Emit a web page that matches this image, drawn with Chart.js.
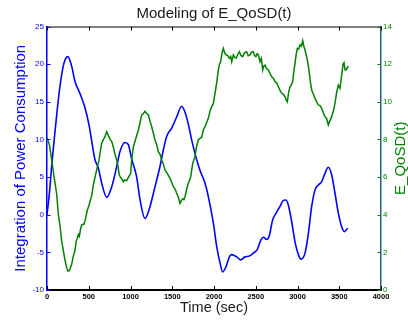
<!DOCTYPE html>
<html>
<head>
<meta charset="utf-8">
<script src="https://cdn.jsdelivr.net/npm/chart.js"></script>
<style>
  html, body { margin: 0; padding: 0; background: #fff; }
  #wrap { width: 408px; height: 320px; }
</style>
</head>
<body>
<div id="wrap"><canvas id="chart" width="408" height="320"></canvas></div>
<script>
// Blue curve, left axis: integration of power consumption
var powerTime = [0, 30, 60, 100, 150, 200, 250, 296, 335, 395, 455, 507, 547, 575, 615, 655, 715, 775, 835, 874, 934,
  974, 1014, 1074, 1114, 1174, 1234, 1293, 1353, 1393, 1433, 1493, 1553, 1613, 1653, 1693, 1733, 1790, 1832, 1892,
  1932, 1992, 2032, 2072, 2104, 2144, 2184, 2212, 2272, 2320, 2371, 2423, 2471, 2519, 2559, 2591, 2631, 2662, 2702,
  2743, 2790, 2830, 2862, 2890, 2930, 2970, 3010, 3042, 3090, 3130, 3170, 3210, 3250, 3290, 3329, 3369, 3409, 3449,
  3489, 3529, 3561, 3601];
var powerValue = [0, 3, 7, 11.5, 16.6, 20, 21, 19.7, 17.7, 16.1, 14.2, 11.7, 9.0, 7.3, 6.2, 4.2, 2.3, 3.7, 6.4, 8.4, 9.6,
  9.3, 7.4, 5.0, 2.0, -0.5, 1.1, 3.7, 6.4, 8.6, 10.4, 11.5, 13.0, 14.4, 13.6, 12.0, 9.9, 7.4, 5.9, 4.2,
  2.4, -1.1, -4.2, -6.4, -7.6, -6.9, -5.6, -5.3, -5.6, -6.0, -5.6, -5.5, -5.1, -4.6, -3.4, -3.0, -3.3, -2.8, -0.7,
  0.2, 1.1, 1.9, 1.96, 1.3, -0.9, -3.6, -5.3, -5.9, -5.1, -2.5, 1.1, 3.3, 3.95, 4.4, 5.5, 6.3, 5.3, 2.85,
  0.2, -1.6, -2.25, -1.8];

// Green curve, right axis: E_QoSD(t)
var qosdTime = [0, 30, 56, 85, 116, 136, 156, 176, 195, 215, 235, 250, 270, 295, 315, 335, 350, 363, 375, 387, 400,
  415, 430, 443, 460, 483, 500, 515, 535, 555, 575, 595, 623, 640, 655, 675, 690, 715, 735, 760, 775, 794, 815, 835,
  850, 866, 880, 895, 914, 930, 954, 970, 1002, 1014, 1034, 1060, 1094, 1115, 1134, 1150, 1174, 1190, 1214, 1235,
  1254, 1275, 1293, 1315, 1333, 1355, 1373, 1393, 1413, 1440, 1473, 1495, 1513, 1535, 1553, 1575, 1593, 1610, 1625,
  1640, 1653, 1670, 1692, 1705, 1720, 1745, 1772, 1790, 1812, 1832, 1852, 1872, 1892, 1912, 1932, 1952, 1972, 1992,
  2012, 2032, 2052, 2066, 2080, 2096, 2112, 2128, 2144, 2164, 2184, 2200, 2212, 2232, 2248, 2264, 2284, 2304, 2324,
  2344, 2364, 2391, 2410, 2431, 2451, 2471, 2487, 2503, 2517, 2531, 2551, 2567, 2583, 2597, 2611, 2631, 2651, 2671,
  2691, 2711, 2731, 2751, 2771, 2791, 2811, 2830, 2850, 2864, 2878, 2894, 2910, 2926, 2942, 2956, 2970, 2984, 2998,
  3014, 3030, 3046, 3062, 3076, 3090, 3104, 3118, 3130, 3142, 3156, 3170, 3190, 3210, 3230, 3250, 3270, 3290, 3310,
  3329, 3350, 3369, 3389, 3409, 3429, 3449, 3469, 3489, 3509, 3529, 3545, 3557, 3569, 3581, 3595, 3609];
var qosdValue = [8.1, 7.7, 6.9, 6.0, 5.1, 4.0, 3.4, 2.6, 2.1, 1.6, 1.2, 1.0, 1.05, 1.35, 1.8, 2.1, 2.6, 2.75, 2.95, 2.85, 3.2,
  3.45, 3.5, 3.5, 3.75, 4.25, 4.45, 4.7, 5.0, 5.58, 6.0, 6.38, 6.9, 7.4, 7.79, 8.0, 8.1, 8.41, 8.2, 7.97, 7.9, 7.6, 7.2, 6.9,
  6.6, 6.1, 6.0, 5.9, 5.75, 5.85, 5.8, 5.95, 6.2, 6.9, 7.6, 8.0, 8.5, 8.9, 9.3, 9.35, 9.5, 9.4, 9.3, 8.95,
  8.67, 8.3, 7.97, 7.7, 7.35, 7.2, 6.9, 6.7, 6.38, 6.2, 5.93, 5.7, 5.49, 5.35, 5.14, 4.9, 4.6, 4.75, 4.85,
  4.8, 4.96, 5.3, 5.67, 5.8, 6.0, 6.73, 7.08, 7.6, 7.97, 8.06, 8.1, 8.5, 8.68, 8.9, 9.12, 9.5, 9.74, 9.9,
  10.45, 11.0, 11.69, 12.0, 12.13, 12.6, 12.84, 12.6, 12.49, 12.45, 12.31, 12.4, 12.13, 12.49, 12.35, 12.31, 12.5, 12.66, 12.45,
  12.4, 12.6, 12.66, 12.45, 12.49, 12.65, 12.66, 12.45, 12.4, 12.55, 12.5, 12.13, 12.3, 11.69, 11.9, 11.95, 11.75, 11.69, 11.5,
  11.33, 11.25, 11.07, 11.0, 10.8, 10.6, 10.45, 10.4, 10.27, 10.1, 10.0, 10.5, 10.8, 10.9, 11.07, 11.6, 12.04, 12.5, 12.84,
  12.8, 13.02, 12.95, 13.25, 12.95, 12.75, 12.5, 12.22, 11.9, 11.51, 11.0, 10.63, 10.4, 10.18, 10.0, 9.83, 9.8, 9.65, 9.4,
  9.21, 9.1, 8.77, 9.0, 9.21, 9.5, 9.92, 10.5, 10.89, 10.72, 11.42, 12.0, 12.08, 11.7, 11.69, 11.8, 11.9];

var xTicks = [0, 500, 1000, 1500, 2000, 2500, 3000, 3500, 4000];
var leftTicks = [-10, -5, 0, 5, 10, 15, 20, 25];
var rightTicks = [0, 2, 4, 6, 8, 10, 12, 14];

var BLUE = '#0000ff';
var GREEN = '#008000';
var FONT = '"Liberation Sans", Arial, Helvetica, sans-serif';

function toPoints(xs, ys) {
  return xs.map(function (t, i) { return { x: t, y: ys[i] }; });
}
function fixedTicks(list) {
  return function (scale) { scale.ticks = list.map(function (v) { return { value: v }; }); };
}
function plain(v) { return String(v); }

// box top line, inward tick marks and the right-hand label (reads bottom to top like the left one)
var frameTicks = {
  id: 'frameTicks',
  afterDraw: function (chart) {
    var ctx = chart.ctx, a = chart.chartArea, s = chart.scales;
    ctx.save();
    ctx.lineWidth = 1;
    ctx.strokeStyle = '#000';
    ctx.beginPath();
    ctx.moveTo(a.left, a.top + 0.5);
    ctx.lineTo(a.right, a.top + 0.5);
    s.x.ticks.forEach(function (t) {
      var px = Math.round(s.x.getPixelForValue(t.value)) + 0.5;
      ctx.moveTo(px, a.top);
      ctx.lineTo(px, a.top + 4);
      ctx.moveTo(px, a.bottom);
      ctx.lineTo(px, a.bottom - 4);
    });
    ctx.stroke();

    ctx.strokeStyle = BLUE;
    ctx.beginPath();
    s.y.ticks.forEach(function (t) {
      var py = Math.round(s.y.getPixelForValue(t.value)) + 0.5;
      ctx.moveTo(a.left, py);
      ctx.lineTo(a.left + 3.5, py);
    });
    ctx.stroke();

    ctx.strokeStyle = GREEN;
    ctx.beginPath();
    s.y1.ticks.forEach(function (t) {
      var py = Math.round(s.y1.getPixelForValue(t.value)) + 0.5;
      ctx.moveTo(a.right, py);
      ctx.lineTo(a.right - 3.5, py);
    });
    ctx.stroke();

    ctx.translate(s.y1.right - 7.5, (a.top + a.bottom) / 2);
    ctx.rotate(-Math.PI / 2);
    ctx.fillStyle = GREEN;
    ctx.font = '15px ' + FONT;
    ctx.textAlign = 'center';
    ctx.textBaseline = 'middle';
    ctx.fillText('E_QoSD(t)', 0, 0);
    ctx.restore();
  }
};

Chart.defaults.font.family = FONT;

new Chart(document.getElementById('chart').getContext('2d'), {
  type: 'line',
  data: {
    datasets: [{
      label: 'E_QoSD(t)',
      data: toPoints(qosdTime, qosdValue),
      yAxisID: 'y1',
      borderColor: GREEN,
      borderWidth: 1.5,
      pointRadius: 0,
      tension: 0,
      order: 0
    }, {
      label: 'Integration of Power Consumption',
      data: toPoints(powerTime, powerValue),
      yAxisID: 'y',
      borderColor: BLUE,
      borderWidth: 1.6,
      pointRadius: 0,
      cubicInterpolationMode: 'monotone',
      order: 1
    }]
  },
  options: {
    responsive: false,
    animation: false,
    devicePixelRatio: 1,
    layout: { padding: 0 },
    plugins: {
      legend: { display: false },
      tooltip: { enabled: false },
      title: {
        display: true,
        text: 'Modeling of E_QoSD(t)',
        fullSize: false,
        color: '#1a1a1a',
        font: { size: 15, weight: 'normal' },
        padding: { top: 5, bottom: 3.5 }
      }
    },
    scales: {
      x: {
        type: 'linear',
        min: 0,
        max: 4000,
        afterBuildTicks: fixedTicks(xTicks),
        afterFit: function (s) { s.height = 30; },
        grid: { display: false, drawTicks: false },
        border: { display: true, color: '#000', width: 2 },
        ticks: { color: '#000', padding: 2, maxRotation: 0, callback: plain, font: { size: 7.5, weight: 'bold' } },
        title: { display: true, text: 'Time (sec)', color: '#1a1a1a', font: { size: 14.5 }, padding: { top: 0, bottom: 3.5 } }
      },
      y: {
        position: 'left',
        min: -10,
        max: 25,
        afterBuildTicks: fixedTicks(leftTicks),
        afterFit: function (s) { s.width = 47; },
        grid: { display: false, drawTicks: false },
        border: { display: true, color: BLUE, width: 1.5 },
        ticks: { color: BLUE, padding: 3, callback: plain, font: { size: 8 } },
        title: { display: true, text: 'Integration of Power Consumption', color: BLUE, font: { size: 15 }, padding: { top: 12, bottom: 0 } }
      },
      y1: {
        position: 'right',
        min: 0,
        max: 14,
        afterBuildTicks: fixedTicks(rightTicks),
        afterFit: function (s) { s.width = 27; },
        grid: { display: false, drawTicks: false },
        border: { display: true, color: '#24608a', width: 1.5 },
        ticks: { color: GREEN, padding: 2, callback: plain, font: { size: 8 } }
      }
    }
  },
  plugins: [frameTicks]
});
</script>
</body>
</html>
